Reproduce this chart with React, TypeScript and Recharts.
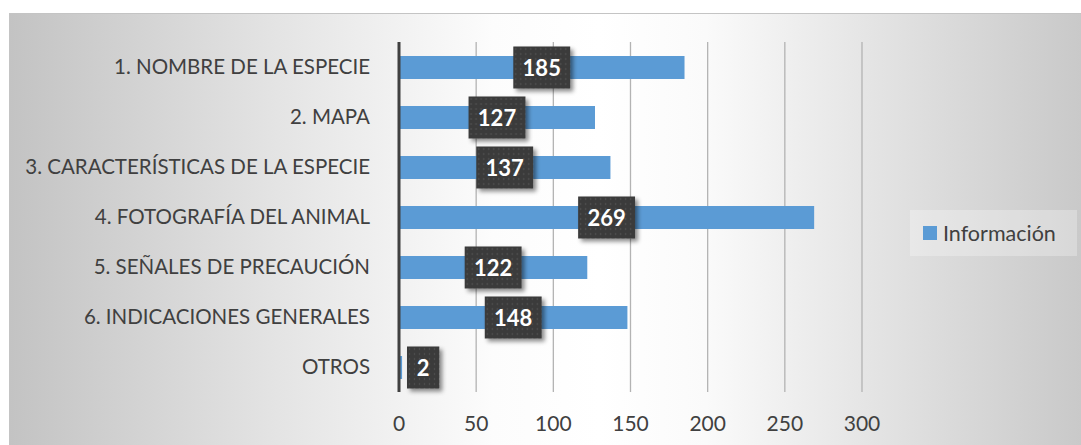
import React from 'react';
import { BarChart, Bar, XAxis, YAxis, CartesianGrid, LabelList, Legend } from 'recharts';

const categories = [
  '1. NOMBRE DE LA ESPECIE',
  '2. MAPA',
  '3. CARACTERÍSTICAS DE LA ESPECIE',
  '4. FOTOGRAFÍA DEL ANIMAL',
  '5. SEÑALES DE PRECAUCIÓN',
  '6. INDICACIONES GENERALES',
  'OTROS',
];
const values = [185, 127, 137, 269, 122, 148, 2];
const xTicks = [0, 50, 100, 150, 200, 250, 300];
const seriesName = 'Información';

const data = categories.map((name, i) => ({ name, value: values[i] }));

const FONT = 'Lato, "Open Sans", sans-serif';
const TEXT = '#404040';
const BAR = '#5b9bd5';

const YTick = (props: any) => {
  const { x, y, payload } = props;
  return (
    <text x={x} y={y} dy={7} textAnchor="end" fill={TEXT} fontFamily={FONT} fontSize={20.5}>
      {payload.value}
    </text>
  );
};

const XTick = (props: any) => {
  const { x, y, payload } = props;
  return (
    <text x={x} y={y} dy={39} textAnchor="middle" fill={TEXT} fontFamily={FONT} fontSize={21}>
      {payload.value}
    </text>
  );
};

const ValueLabel = (props: any) => {
  const { x, y, width, height, value, index } = props;
  const s = String(value);
  const boxW = s.length * 12.3 + 20;
  const boxH = 42;
  const cx = Math.max(x + width / 2, x + 8 + boxW / 2);
  const cy = y + height / 2;
  const pid = `dots${index}`;
  const fid = `shadow${index}`;
  return (
    <g>
      <defs>
        <pattern id={pid} x={cx - boxW / 2} y={cy - boxH / 2} width={5} height={5} patternUnits="userSpaceOnUse">
          <rect width={5} height={5} fill="#3a3a3a" />
          <circle cx={2.5} cy={2.5} r={0.8} fill="#5a5a5a" />
        </pattern>
        <filter id={fid} x="-30%" y="-30%" width="160%" height="160%">
          <feDropShadow dx={3} dy={3} stdDeviation={2.2} floodColor="#000" floodOpacity={0.45} />
        </filter>
      </defs>
      <rect x={cx - boxW / 2} y={cy - boxH / 2} width={boxW} height={boxH} fill={`url(#${pid})`} filter={`url(#${fid})`} />
      <text x={cx} y={cy} dy={8} textAnchor="middle" fill="#ffffff" fontFamily={FONT} fontWeight={700} fontSize={22}>
        {s}
      </text>
    </g>
  );
};

const LegendContent = () => (
  <div
    style={{
      width: 167,
      height: 46,
      background: 'rgba(255,255,255,0.28)',
      display: 'flex',
      alignItems: 'center',
      boxSizing: 'border-box',
      paddingLeft: 13,
      fontFamily: FONT,
      fontSize: 21.5,
      color: TEXT,
      whiteSpace: 'nowrap',
    }}
  >
    <span style={{ display: 'inline-block', width: 14, height: 14, background: BAR, marginRight: 6 }} />
    <span>{seriesName}</span>
  </div>
);

export default function App() {
  return (
    <div style={{ position: 'absolute', left: 0, top: 0, width: 1081, height: 445, background: '#ffffff' }}>
      <div
        style={{
          position: 'absolute',
          left: 9,
          top: 13,
          width: 1072,
          height: 432,
          borderTop: '1px solid #c4c4c4',
          borderLeft: '1px solid #c4c4c4',
          boxSizing: 'border-box',
          background:
            'linear-gradient(90deg, #c3c3c3 0%, #e4e4e4 25%, #fcfcfc 45%, #ffffff 55%, #fafafa 65%, #e2e2e2 82%, #c9c9c9 100%)',
        }}
      />
      <div style={{ position: 'absolute', left: 0, top: 0 }}>
        <BarChart
          width={1081}
          height={445}
          data={data}
          layout="vertical"
          margin={{ top: 42, right: 219, bottom: 23, left: 0 }}
          barSize={23}
        >
          <CartesianGrid horizontal={false} vertical={true} stroke="#b3b3b3" strokeWidth={1.3} />
          <XAxis
            type="number"
            domain={[0, 300]}
            ticks={xTicks}
            axisLine={false}
            tickLine={false}
            tickSize={0}
            tickMargin={0}
            height={30}
            tick={<XTick />}
            interval={0}
          />
          <YAxis
            type="category"
            dataKey="name"
            width={399}
            axisLine={{ stroke: '#404040', strokeWidth: 3 }}
            tickLine={false}
            tickSize={0}
            tickMargin={29}
            tick={<YTick />}
            interval={0}
          />
          <Legend
            layout="horizontal"
            verticalAlign="middle"
            align="center"
            content={<LegendContent />}
            wrapperStyle={{ position: 'absolute', left: 910, top: 210, width: 167, height: 46 }}
          />
          <Bar dataKey="value" name={seriesName} fill={BAR} isAnimationActive={false}>
            <LabelList dataKey="value" content={<ValueLabel />} />
          </Bar>
        </BarChart>
      </div>
    </div>
  );
}
